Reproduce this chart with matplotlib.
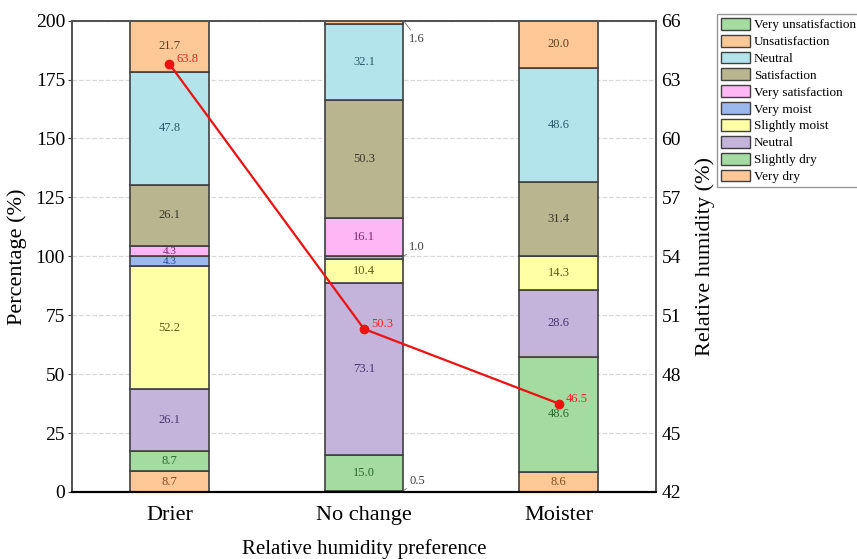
import numpy as np
import matplotlib.pyplot as plt
from matplotlib.patches import Patch

plt.rcParams['font.family'] = ['Liberation Serif', 'DejaVu Serif']

groups = ['Drier', 'No change', 'Moister']

# humidity sensation (bottom stack, sums to 100)
very_dry = [8.7, 0.5, 8.6]
slightly_dry = [8.7, 15.0, 48.6]
neutral_s = [26.1, 73.1, 28.6]
slightly_moist = [52.2, 10.4, 14.3]
very_moist = [4.3, 1.0, 0.0]
# satisfaction (upper stack)
very_satis = [4.3, 16.1, 0.0]
satis = [26.1, 50.3, 31.4]
neutral_v = [47.8, 32.1, 48.6]
unsatis = [21.7, 1.6, 20.0]
very_unsatis = [0.0, 0.0, 0.0]

rh = [63.8, 50.3, 46.5]

segments = [
    ('Very dry', very_dry, '#ffc896', '#7a5020'),
    ('Slightly dry', slightly_dry, '#a3dba0', '#2a6a2a'),
    ('Neutral', neutral_s, '#c4b3da', '#4a3570'),
    ('Slightly moist', slightly_moist, '#ffffa6', '#5a5a10'),
    ('Very moist', very_moist, '#9cb9ee', '#2a4a90'),
    ('Very satisfaction', very_satis, '#ffb6f4', '#7a2a70'),
    ('Satisfaction', satis, '#b8b58f', '#3a3828'),
    ('Neutral', neutral_v, '#b3e4ec', '#2a5a68'),
    ('Unsatisfaction', unsatis, '#ffc896', '#5a4020'),
    ('Very unsatisfaction', very_unsatis, '#a3dba0', '#2a6a2a'),
]

fig = plt.figure(figsize=(8.57, 5.59), dpi=100)
ax = fig.add_axes([0.084, 0.12, 0.6815, 0.843])
x = np.arange(len(groups))
w = 0.405
bottom = np.zeros(len(groups))
for name, vals, col, tcol in segments:
    vals = np.array(vals)
    ax.bar(x, vals, w, bottom=bottom, color=col, edgecolor='#404040', linewidth=1.2, zorder=2)
    for i in range(len(groups)):
        v = vals[i]
        if v <= 0:
            continue
        yc = bottom[i] + v / 2
        if v < 2:
            # small segment, label outside with a leader line
            dy = -7 if yc > 190 else 4.5
            ax.annotate(f'{v:.1f}', xy=(x[i] + w / 2, bottom[i] + v), xytext=(x[i] + w / 2 + 0.03, yc + dy),
                        fontsize=9, color='#404040', ha='left', va='center',
                        arrowprops=dict(arrowstyle='-', color='#707070', lw=0.6, shrinkA=0, shrinkB=0))
        else:
            fs = 8 if v < 5 else 9
            ax.text(x[i], yc, f'{v:.1f}', fontsize=fs, color=tcol, ha='center', va='center', zorder=3)
    bottom += vals

ax.set_xlim(-0.5, 2.5)
ax.set_ylim(0, 200)
ax.set_yticks(np.arange(0, 201, 25))
ax.set_xticks(x)
ax.set_xticklabels(groups, fontsize=16)
ax.tick_params(axis='y', labelsize=14, length=3, pad=2, color='#404040')
ax.tick_params(axis='x', direction='in', length=3, pad=10)
ax.yaxis.grid(True, linestyle='--', color='#d8d8d8', linewidth=0.9, zorder=0)
ax.set_axisbelow(True)
ax.set_ylabel('Percentage (%)', fontsize=16, labelpad=6)
ax.set_xlabel('Relative humidity preference', fontsize=15, labelpad=10)
ax.spines['bottom'].set_linewidth(1.5)
for s in ['top', 'left', 'right']:
    ax.spines[s].set_color('#505050')
    ax.spines[s].set_linewidth(1.2)

ax2 = ax.twinx()
ax2.plot(x, rh, color='#ee1111', linewidth=1.6, marker='o', markersize=6, zorder=5)
for i in range(len(groups)):
    ax2.text(x[i] + 0.035, rh[i] + 0.25, f'{rh[i]:.1f}', color='#ee2222', fontsize=9, ha='left', va='center')
ax2.set_ylim(42, 66)
ax2.set_yticks(np.arange(42, 67, 3))
ax2.tick_params(axis='y', labelsize=14, length=0, pad=4)
ax2.set_ylabel('Relative humidity (%)', fontsize=16, labelpad=10)
for s in ['top', 'left', 'right']:
    ax2.spines[s].set_color('#505050')
    ax2.spines[s].set_linewidth(1.2)
ax2.spines['bottom'].set_linewidth(1.5)

handles = [Patch(facecolor=col, edgecolor='#404040', label=name) for name, vals, col, tcol in segments[::-1]]
fig.legend(handles=handles, loc='upper left', bbox_to_anchor=(0.8366, 0.975), fontsize=9.5,
           frameon=True, fancybox=False, edgecolor='#808080', handlelength=2.2, handleheight=1.0,
           handletextpad=0.3, labelspacing=0.26, borderpad=0.3, borderaxespad=0)

plt.savefig('out.png', dpi=100)
